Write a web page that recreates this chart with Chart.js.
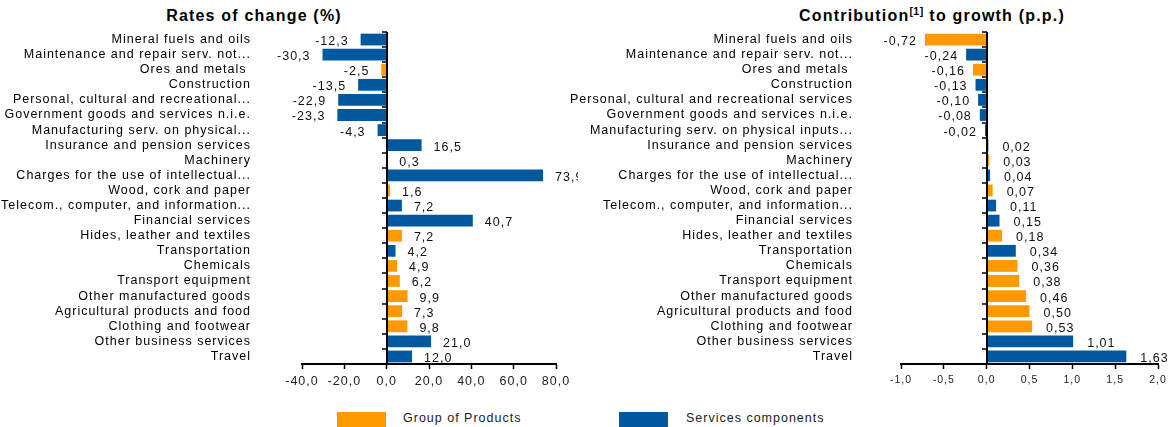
<!DOCTYPE html>
<html>
<head>
<meta charset="utf-8">
<script src="https://cdn.jsdelivr.net/npm/chart.js@4.4.0/dist/chart.umd.min.js"></script>
<style>
  body { margin: 0; background: #fff; width: 1172px; height: 427px; overflow: hidden; position: relative;
         font-family: "Liberation Sans", Arial, sans-serif; }
  canvas { position: absolute; top: 0; }
  #rates { left: 0; }
  #contrib { left: 565px; }
  .title { position: absolute; top: 6px; font-weight: bold; font-size: 16px; line-height: 19px;
           letter-spacing: 1.2px; text-align: center; color: #000; white-space: nowrap; }
  .title sup { font-size: 10.5px; line-height: 0; vertical-align: 6px; letter-spacing: 0.5px; }
  .key { position: absolute; top: 412px; width: 49px; height: 16px; }
  .lab { position: absolute; top: 411px; font-size: 12.5px; line-height: 15px; letter-spacing: 1px;
         color: #222; white-space: nowrap; }
</style>
</head>
<body>
<div class="title" style="left:154px;width:200px">Rates of change (%)</div>
<div class="title" style="left:782px;width:300px">Contribution<sup>[1]</sup> to growth (p.p.)</div>
<canvas id="rates" width="578" height="398"></canvas>
<canvas id="contrib" width="607" height="398"></canvas>
<div class="key" style="left:337px;background:#FF9900"></div>
<div class="lab" style="left:403px">Group of Products</div>
<div class="key" style="left:619px;background:#00599F"></div>
<div class="lab" style="left:686px">Services components</div>

<script>
// category labels (as shown on each panel)
const rateLabels = [
  'Mineral fuels and oils', 'Maintenance and repair serv. not...', 'Ores and metals ', 'Construction',
  'Personal, cultural and recreational...', 'Government goods and services n.i.e.', 'Manufacturing serv. on physical...',
  'Insurance and pension services', 'Machinery', 'Charges for the use of intellectual...', 'Wood, cork and paper',
  'Telecom., computer, and information...', 'Financial services', 'Hides, leather and textiles', 'Transportation',
  'Chemicals', 'Transport equipment', 'Other manufactured goods', 'Agricultural products and food',
  'Clothing and footwear', 'Other business services', 'Travel'
];
const contribLabels = [
  'Mineral fuels and oils', 'Maintenance and repair serv. not...', 'Ores and metals ', 'Construction',
  'Personal, cultural and recreational services', 'Government goods and services n.i.e.', 'Manufacturing serv. on physical inputs...',
  'Insurance and pension services', 'Machinery', 'Charges for the use of intellectual...', 'Wood, cork and paper',
  'Telecom., computer, and information...', 'Financial services', 'Hides, leather and textiles', 'Transportation',
  'Chemicals', 'Transport equipment', 'Other manufactured goods', 'Agricultural products and food',
  'Clothing and footwear', 'Other business services', 'Travel'
];

// values
const rates = [-12.3, -30.3, -2.5, -13.5, -22.9, -23.3, -4.3, 16.5, 0.3, 73.9, 1.6,
               7.2, 40.7, 7.2, 4.2, 4.9, 6.2, 9.9, 7.3, 9.8, 21.0, 12.0];
const contributions = [-0.72, -0.24, -0.16, -0.13, -0.10, -0.08, -0.02, 0.02, 0.03, 0.04, 0.07,
                       0.11, 0.15, 0.18, 0.34, 0.36, 0.38, 0.46, 0.50, 0.53, 1.01, 1.63];

// P = group of products, S = services components (as coloured on each panel)
const rateGroups    = ['S','S','P','S','S','S','S','S','P','S','P','S','S','P','S','P','P','P','P','P','S','S'];
const contribGroups = ['P','S','P','S','S','S','S','S','P','S','P','S','S','P','S','P','P','P','P','P','S','S'];

// axis ticks
const rateTicks = { min: -40, max: 80, step: 20 };
const contribTicks = { min: -1, max: 2, step: 0.5 };

const orange = '#FF9900';
const blue = '#00599F';
const family = '"Liberation Sans", Arial, sans-serif';
Chart.defaults.font.family = family;

function pick(values, groups, g) {
  return values.map((v, i) => groups[i] === g ? v : null);
}
function comma(v, d) {
  return v.toFixed(d).replace('.', ',');
}

// the picture's text is widely spaced
const spacing = {
  id: 'spacing',
  beforeLayout(chart) { chart.ctx.letterSpacing = '1px'; },
  beforeDraw(chart) { chart.ctx.letterSpacing = '1px'; }
};

// vertical axis sits at zero, with little ticks between categories
const zeroAxis = {
  id: 'zeroAxis',
  afterDatasetsDraw(chart) {
    const { ctx, chartArea: a, scales: { x } } = chart;
    const x0 = Math.round(x.getPixelForValue(0));
    const n = chart.data.labels.length;
    const step = (a.bottom - a.top) / n;
    ctx.save();
    ctx.strokeStyle = '#000';
    ctx.lineWidth = 1.5;
    ctx.beginPath();
    for (let i = 0; i <= n; i++) {
      const yy = Math.round(a.top + i * step);
      ctx.moveTo(x0 - 5, yy);
      ctx.lineTo(x0, yy);
    }
    ctx.stroke();
    ctx.lineWidth = 2;
    ctx.beginPath();
    ctx.moveTo(x0, a.top);
    ctx.lineTo(x0, a.bottom + 1);
    ctx.stroke();
    ctx.restore();
  }
};

const valueLabels = {
  id: 'valueLabels',
  afterDatasetsDraw(chart, args, opts) {
    const ctx = chart.ctx;
    ctx.save();
    ctx.font = '12.5px ' + family;
    ctx.fillStyle = '#111';
    ctx.textBaseline = 'middle';
    chart.data.datasets.forEach((ds, di) => {
      chart.getDatasetMeta(di).data.forEach((bar, i) => {
        const v = ds.data[i];
        if (v === null) return;
        const txt = comma(v, opts.digits);
        if (v >= 0) {
          ctx.textAlign = 'left';
          ctx.fillText(txt, bar.x + opts.gapPos, bar.y + 2);
        } else {
          ctx.textAlign = 'right';
          ctx.fillText(txt, bar.x - opts.gapNeg, bar.y + 2);
        }
      });
    });
    ctx.restore();
  }
};

function makeChart(id, labels, values, groups, t, cfg) {
  return new Chart(document.getElementById(id), {
    type: 'bar',
    data: {
      labels: labels,
      datasets: [
        { label: 'Group of Products', data: pick(values, groups, 'P'), backgroundColor: orange },
        { label: 'Services components', data: pick(values, groups, 'S'), backgroundColor: blue }
      ]
    },
    options: {
      indexAxis: 'y',
      responsive: false,
      animation: false,
      datasets: { bar: { categoryPercentage: 1, barPercentage: 0.78 } },
      layout: { padding: { left: 0, right: cfg.padRight, top: 32, bottom: 10 } },
      plugins: {
        legend: { display: false },
        tooltip: { enabled: false },
        valueLabels: { digits: cfg.digits, gapPos: cfg.gapPos, gapNeg: cfg.gapNeg }
      },
      scales: {
        x: {
          stacked: true,
          min: t.min, max: t.max,
          ticks: {
            stepSize: t.step, autoSkip: false, maxRotation: 0, padding: 5,
            color: '#222', font: { size: cfg.tickSize },
            callback: v => comma(v, 1)
          },
          grid: { drawOnChartArea: false, drawTicks: true, tickLength: 5, tickColor: '#000', tickWidth: 1.5 },
          border: { color: '#000', width: 2 },
          afterFit(s) { s.height = 24; }
        },
        y: {
          stacked: true,
          grid: { display: false },
          border: { display: false },
          ticks: { autoSkip: false, padding: cfg.labelPad, color: '#000', font: { size: 12.5 } },
          afterFit(s) {
            s.width = cfg.axisWidth;
            // label padding is meant only sideways
            s.paddingTop = 0;
            s.paddingBottom = 0;
          }
        }
      }
    },
    plugins: [spacing, zeroAxis, valueLabels]
  });
}

makeChart('rates', rateLabels, rates, rateGroups, rateTicks,
  { axisWidth: 302, padRight: 22, labelPad: 43, digits: 1, gapPos: 12, gapNeg: 12, tickSize: 12.5 });
makeChart('contrib', contribLabels, contributions, contribGroups, contribTicks,
  { axisWidth: 336, padRight: 14, labelPad: 40, digits: 2, gapPos: 14, gapNeg: 8, tickSize: 10.5 });
</script>
</body>
</html>
